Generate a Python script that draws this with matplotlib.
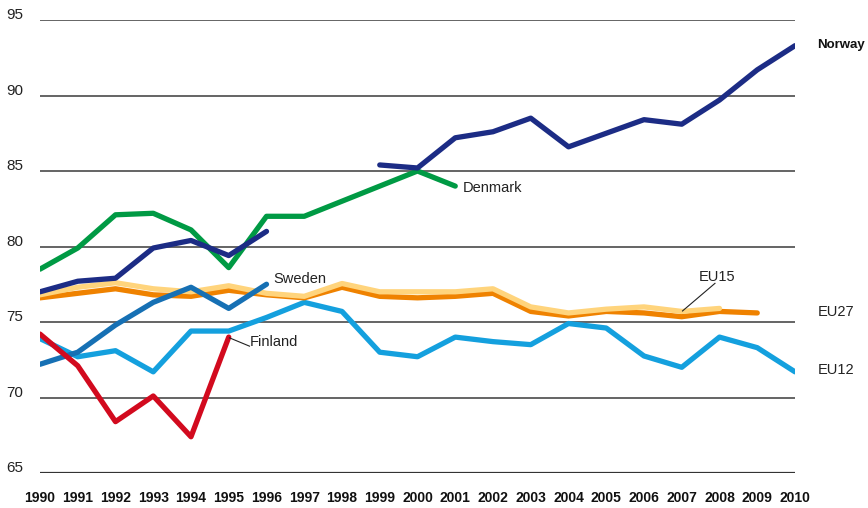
import numpy as np
import matplotlib
matplotlib.use("Agg")
import matplotlib.pyplot as plt
from matplotlib.transforms import blended_transform_factory

plt.rcParams['font.family'] = ['Liberation Sans', 'DejaVu Sans']

years = list(range(1990, 2011))
nan = np.nan

norway = [77.0, 77.7, 77.9, 79.9, 80.4, 79.4, 81.0, nan, nan, 85.4, 85.2,
          87.2, 87.6, 88.5, 86.6, 87.5, 88.4, 88.1, 89.7, 91.7, 93.3]
denmark = [78.5, 79.9, 82.1, 82.2, 81.1, 78.6, 82.0, 82.0, 83.0, 84.0, 85.0,
           84.0, nan, nan, nan, nan, nan, nan, nan, nan, nan]
sweden = [72.2, 73.0, 74.8, 76.3, 77.3, 75.9, 77.5, nan, nan, nan, nan,
          nan, nan, nan, nan, nan, nan, nan, nan, nan, nan]
finland = [74.2, 72.1, 68.4, 70.1, 67.4, 74.0, nan, nan, nan, nan, nan,
           nan, nan, nan, nan, nan, nan, nan, nan, nan, nan]
eu12 = [73.9, 72.7, 73.1, 71.7, 74.4, 74.4, 75.3, 76.3, 75.7, 73.0, 72.7,
        74.0, 73.7, 73.5, 74.9, 74.6, 72.75, 72.0, 74.0, 73.3, 71.7]
eu27 = [76.6, 76.9, 77.2, 76.8, 76.7, 77.1, 76.8, 76.6, 77.3, 76.7, 76.6,
        76.7, 76.9, 75.7, 75.4, 75.7, 75.6, 75.35, 75.7, 75.6, nan]
eu15 = [76.8, 77.3, 77.6, 77.2, 77.0, 77.4, 76.9, 76.7, 77.55, 77.0, 77.0,
        77.0, 77.2, 76.0, 75.6, 75.85, 76.0, 75.7, 75.9, nan, nan]

yticks = [65, 70, 75, 80, 85, 90, 95]

W, H = 868, 508
fig = plt.figure(figsize=(W / 100, H / 100), dpi=100)
ax = fig.add_axes([40 / W, 1 - 473 / H, (795 - 40) / W, (473 - 20) / H])
ax.set_xlim(1990, 2010)
ax.set_ylim(65, 95)
for s in ax.spines.values():
    s.set_visible(False)
ax.set_yticks([])
ax.set_xticks(years)
ax.set_xticklabels([str(y) for y in years], fontsize=10, fontweight='bold',
                   color='#111111')
ax.tick_params(axis='x', length=0, pad=13)

for v in yticks:
    if v == 65:
        ax.axhline(v, color='#333333', lw=1.6, zorder=1)
    else:
        ax.axhline(v, color='#4a4a4a', lw=1.2, zorder=1)

tr = blended_transform_factory(fig.transFigure, ax.transData)
for v in yticks:
    ax.text(6 / W, v + 0.33, str(v), transform=tr, fontsize=11,
            ha='left', va='center', color='#222222')

kw = dict(lw=3.8, solid_capstyle='round', solid_joinstyle='round')
ax.plot(years, eu12, color='#14a0de', zorder=3, **kw)
ax.plot(years, eu27, color='#ef8200', zorder=4, **kw)
ax.plot(years, eu15, color='#ffd47c', zorder=5, **kw)
ax.plot(years, sweden, color='#1670b4', zorder=6, **kw)
ax.plot(years, denmark, color='#009a44', zorder=7, **kw)
ax.plot(years, norway, color='#1c2c85', zorder=8, **kw)
ax.plot(years, finland, color='#d20a1e', zorder=9, **kw)

fs = 10.5
ax.text(2010.58, 93.35, 'Norway', fontsize=9.5, fontweight='bold', ha='left', va='center', color='#111111')
ax.text(2001.2, 83.9, 'Denmark', fontsize=fs, ha='left', va='center', color='#222222')
ax.text(1996.17, 77.85, 'Sweden', fontsize=fs, ha='left', va='center', color='#222222')
ax.text(1995.55, 73.7, 'Finland', fontsize=fs, ha='left', va='center', color='#222222')
ax.plot([1995.02, 1995.55], [73.95, 73.4], color='#222222', lw=0.8, zorder=10)
ax.text(2007.45, 78.0, 'EU15', fontsize=fs, ha='left', va='center', color='#222222')
ax.plot([2007.02, 2007.88], [75.73, 77.56], color='#222222', lw=0.8, zorder=10)
ax.text(2010.6, 75.66, 'EU27', fontsize=fs, ha='left', va='center', color='#222222')
ax.text(2010.6, 71.8, 'EU12', fontsize=fs, ha='left', va='center', color='#222222')

fig.savefig('out.png', dpi=100)
